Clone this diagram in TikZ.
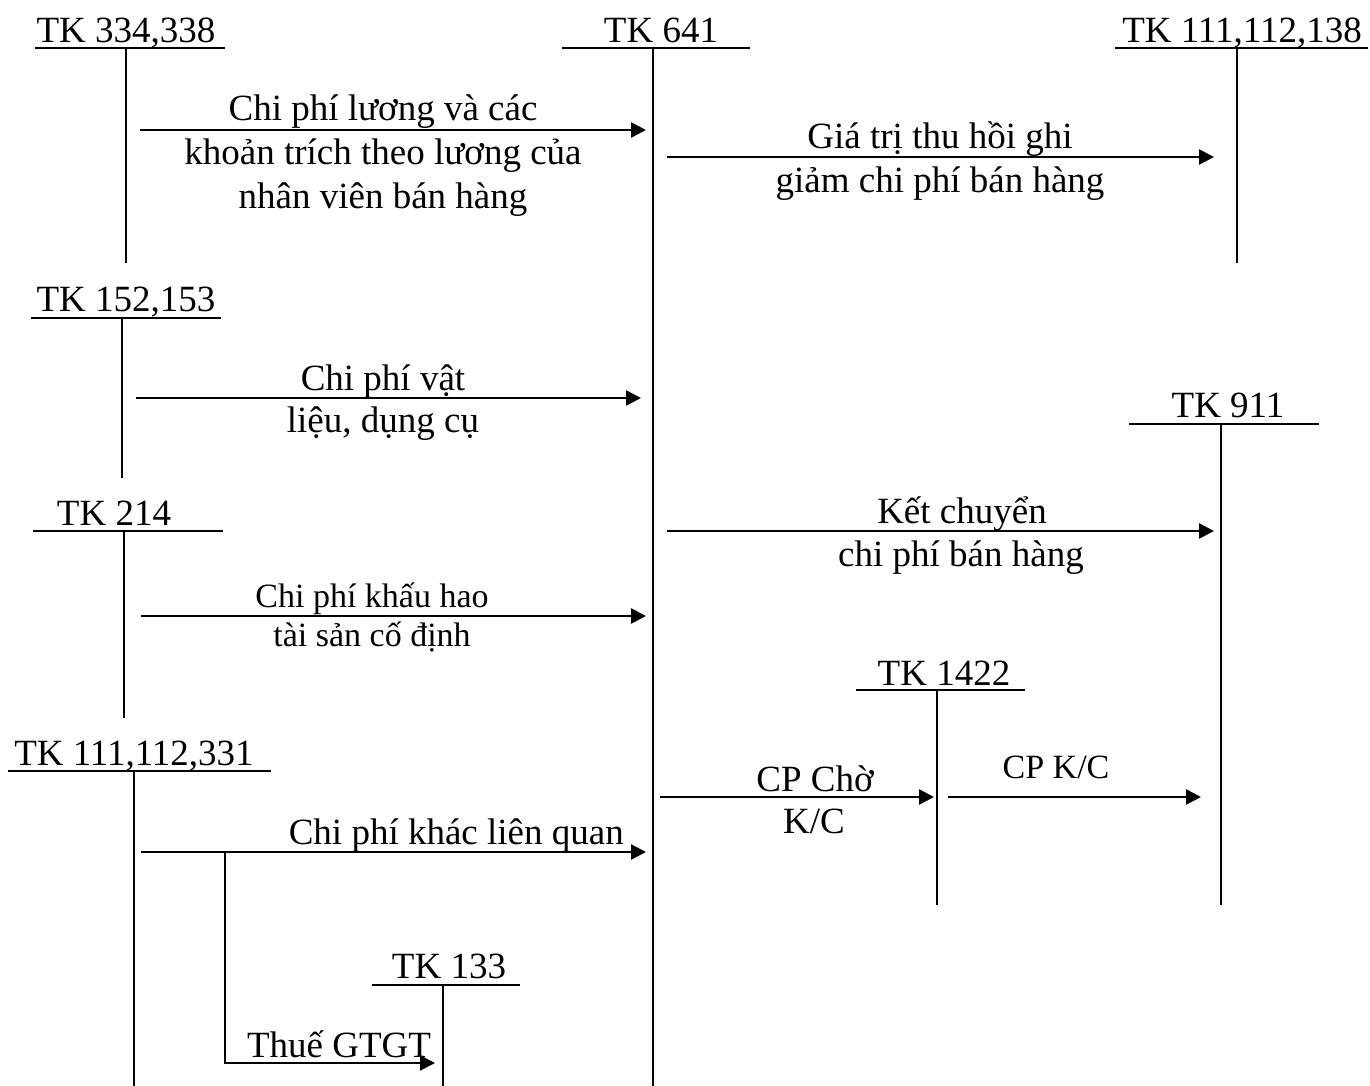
\documentclass[tikz,border=0pt]{standalone}
\usepackage{fontspec}
\setmainfont{Liberation Serif}
\usetikzlibrary{arrows.meta}
\begin{document}
\begin{tikzpicture}[x=1pt,y=-1pt,
  acc/.style={line width=1.7pt},
  flow/.style={line width=2.5pt,-{Triangle[length=15pt,width=15pt]}},
  lbl/.style={anchor=base,inner sep=0pt,font=\fontsize{37}{44}\selectfont},
  sml/.style={anchor=base,inner sep=0pt,font=\fontsize{34}{40}\selectfont}]
\useasboundingbox[fill=white] (0,0) rectangle (1370,1086);

% ---------- T accounts ----------
% TK 334,338
\node[lbl] (n334) at (126,43) {TK 334,338};
\coordinate (t334L) at (35,48); \coordinate (t334R) at (225,48);
\coordinate (t334T) at (126,48); \coordinate (t334B) at (126,263);
\draw[acc] (t334L) -- (t334R) (t334T) -- (t334B);
% TK 641
\node[lbl] (n641) at (661,43) {TK 641};
\coordinate (t641L) at (562,48); \coordinate (t641R) at (750,48);
\coordinate (t641T) at (653,48); \coordinate (t641B) at (653,1086);
\draw[acc] (t641L) -- (t641R) (t641T) -- (t641B);
% TK 111,112,138
\node[lbl] (n138) at (1242,43) {TK 111,112,138};
\coordinate (t138L) at (1115,48); \coordinate (t138R) at (1368,48);
\coordinate (t138T) at (1237,48); \coordinate (t138B) at (1237,263);
\draw[acc] (t138L) -- (t138R) (t138T) -- (t138B);
% TK 152,153
\node[lbl] (n152) at (126,311) {TK 152,153};
\coordinate (t152L) at (31,318); \coordinate (t152R) at (221,318);
\coordinate (t152T) at (122,318); \coordinate (t152B) at (122,478);
\draw[acc] (t152L) -- (t152R) (t152T) -- (t152B);
% TK 911
\node[lbl] (n911) at (1228,417) {TK 911};
\coordinate (t911L) at (1129,424); \coordinate (t911R) at (1319,424);
\coordinate (t911T) at (1221,424); \coordinate (t911B) at (1221,905);
\draw[acc] (t911L) -- (t911R) (t911T) -- (t911B);
% TK 214
\node[lbl] (n214) at (114,525) {TK 214};
\coordinate (t214L) at (33,531); \coordinate (t214R) at (223,531);
\coordinate (t214T) at (124,531); \coordinate (t214B) at (124,718);
\draw[acc] (t214L) -- (t214R) (t214T) -- (t214B);
% TK 1422
\node[lbl] (n1422) at (944,685) {TK 1422};
\coordinate (t1422L) at (856,690); \coordinate (t1422R) at (1025,690);
\coordinate (t1422T) at (937,690); \coordinate (t1422B) at (937,905);
\draw[acc] (t1422L) -- (t1422R) (t1422T) -- (t1422B);
% TK 111,112,331
\node[lbl] (n331) at (134,765) {TK 111,112,331};
\coordinate (t331L) at (8,771); \coordinate (t331R) at (271,771);
\coordinate (t331T) at (134,771); \coordinate (t331B) at (134,1086);
\draw[acc] (t331L) -- (t331R) (t331T) -- (t331B);
% TK 133
\node[lbl] (n133) at (449,978) {TK 133};
\coordinate (t133L) at (372,985); \coordinate (t133R) at (520,985);
\coordinate (t133T) at (443,985); \coordinate (t133B) at (443,1086);
\draw[acc] (t133L) -- (t133R) (t133T) -- (t133B);

% ---------- flows ----------
% 1
\coordinate (f1s) at (140,130); \coordinate (f1e) at (646,130);
\draw[flow] (f1s) -- (f1e);
\node[lbl] (x1a) at (383,121) {Chi phí lương và các};
\node[lbl] (x1b) at (383,165) {khoản trích theo lương của};
\node[lbl] (x1c) at (383,208) {nhân viên bán hàng};
% 2
\coordinate (f2s) at (667,157); \coordinate (f2e) at (1214,157);
\draw[flow] (f2s) -- (f2e);
\node[lbl] (x2a) at (940,149) {Giá trị thu hồi ghi};
\node[lbl] (x2b) at (940,193) {giảm chi phí bán hàng};
% 3
\coordinate (f3s) at (136,398); \coordinate (f3e) at (641,398);
\draw[flow] (f3s) -- (f3e);
\node[lbl] (x3a) at (383,390) {Chi phí vật};
\node[lbl] (x3b) at (383,432) {liệu, dụng cụ};
% 4
\coordinate (f4s) at (667,531); \coordinate (f4e) at (1214,531);
\draw[flow] (f4s) -- (f4e);
\node[lbl] (x4a) at (962,523) {Kết chuyển};
\node[lbl] (x4b) at (961,566) {chi phí bán hàng};
% 5
\coordinate (f5s) at (141,616); \coordinate (f5e) at (646,616);
\draw[flow] (f5s) -- (f5e);
\node[sml] (x5a) at (372,607) {Chi phí khấu hao};
\node[sml] (x5b) at (372,646) {tài sản cố định};
% 6
\coordinate (f6s) at (660,797); \coordinate (f6e) at (934,797);
\draw[flow] (f6s) -- (f6e);
\node[lbl] (x6a) at (815,791) {CP Chờ};
\node[lbl] (x6b) at (814,833) {K/C};
% 7
\coordinate (f7s) at (948,797); \coordinate (f7e) at (1201,797);
\draw[flow] (f7s) -- (f7e);
\node[sml] (x7a) at (1056,778) {CP K/C};
% 8
\coordinate (f8s) at (141,852); \coordinate (f8e) at (646,852);
\draw[flow] (f8s) -- (f8e);
\node[lbl,anchor=base east] (x8a) at (624,844) {Chi phí khác liên quan};
% 9 (branch to TK 133)
\coordinate (f9s) at (225,852); \coordinate (f9c) at (225,1063); \coordinate (f9e) at (435,1063);
\draw[flow,line width=2pt] (f9s) -- (f9c) -- (f9e);
\node[lbl] (x9a) at (339,1057) {Thuế GTGT};
\end{tikzpicture}
\end{document}
